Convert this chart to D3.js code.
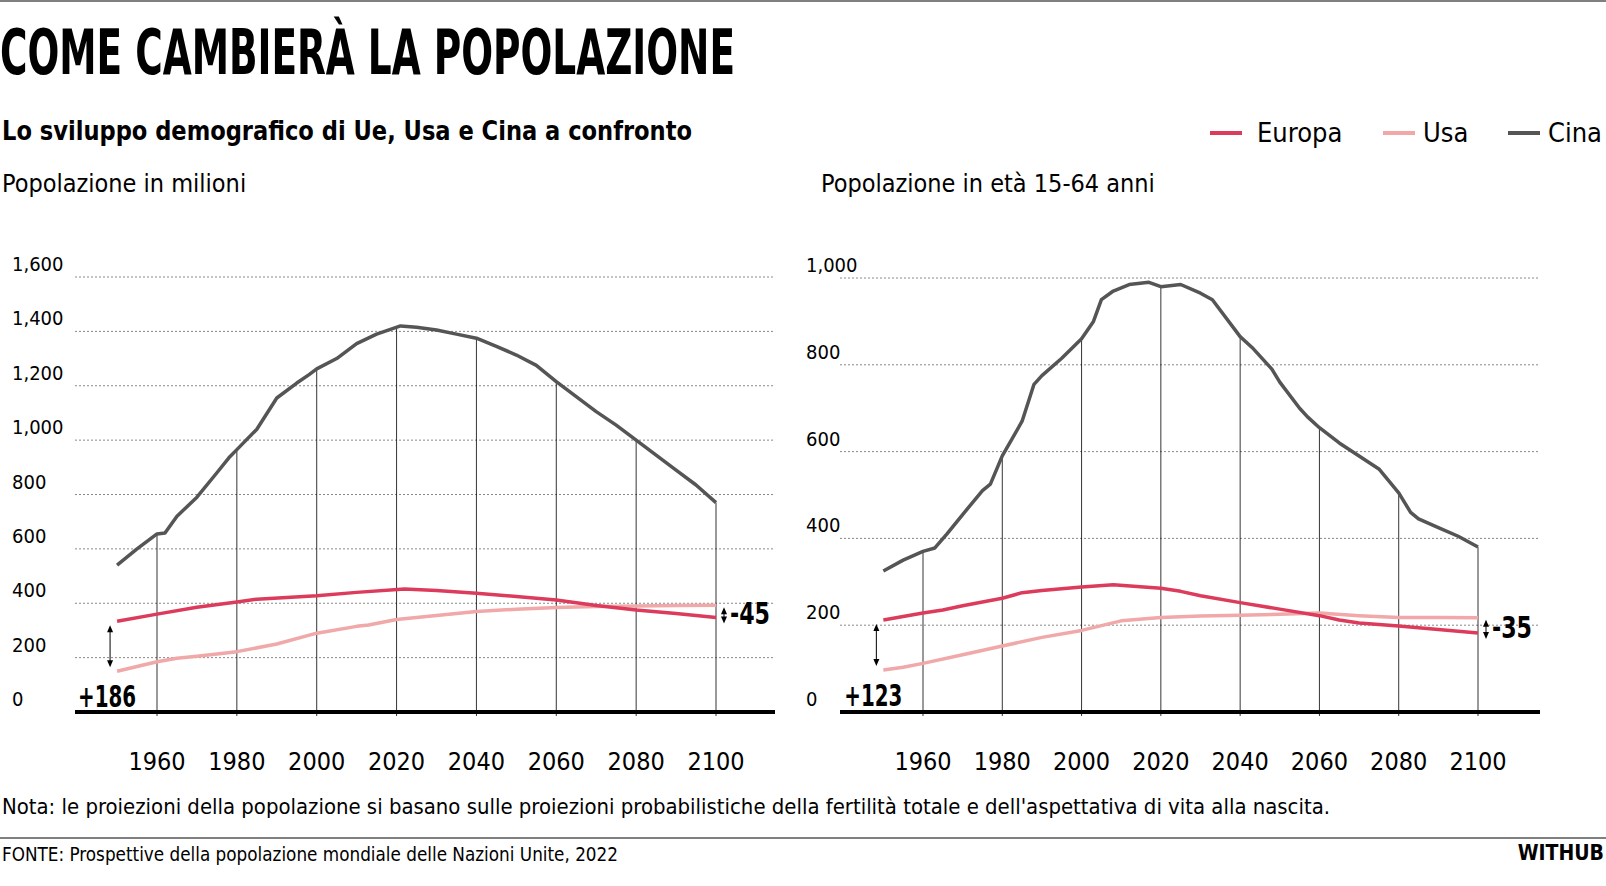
<!DOCTYPE html>
<html><head><meta charset="utf-8">
<script src="https://cdn.jsdelivr.net/npm/d3@7"></script>
<style>
html,body{margin:0;background:#fff;overflow:hidden;}
svg{display:block;}
text{font-family:"DejaVu Sans Condensed","DejaVu Sans",sans-serif;font-stretch:condensed;}
</style></head><body>
<svg id="c" width="1606" height="886"></svg>
<script>
// Data: popolazione totale (milioni)
const totYears = [1950,1955,1960,1962,1965,1970,1975,1978,1980,1985,1990,1995,1998,2000,2005,2010,2015,2021,2025,2030,2035,2040,2045,2050,2055,2060,2065,2070,2075,2080,2085,2090,2095,2100];
const totCina  = [540,600,655,658,720,790,880,935,965,1040,1155,1210,1240,1262,1300,1355,1390,1420,1415,1405,1390,1375,1345,1313,1275,1215,1160,1105,1055,1000,945,890,835,770];
const totEuYears = [1950,1960,1970,1980,1985,2000,2010,2022,2030,2040,2050,2060,2070,2080,2090,2100];
const totEuropa  = [334,360,385,405,415,428,440,452,447,437,425,412,392,375,362,348];
const totUsaYears = [1950,1960,1965,1970,1980,1990,2000,2010,2013,2020,2030,2040,2050,2060,2070,2080,2090,2100];
const totUsa      = [150,185,198,205,222,250,290,315,320,340,355,370,378,384,388,390,392,393];
// Data: popolazione 15-64 anni (milioni)
const wYears = [1950,1955,1960,1963,1966,1970,1975,1977,1980,1985,1988,1990,1995,2000,2003,2005,2008,2012,2017,2020,2025,2030,2033,2040,2043,2048,2050,2055,2057,2060,2065,2070,2075,2080,2083,2085,2090,2095,2100];
const wCina  = [325,350,370,378,410,455,510,525,590,670,755,775,815,860,900,950,970,985,990,980,985,965,950,865,840,790,760,700,680,655,620,590,560,505,460,445,425,405,380];
const wEuYears = [1950,1960,1965,1970,1980,1985,1990,2000,2008,2020,2025,2030,2040,2050,2060,2065,2070,2080,2090,2100];
const wEuropa  = [212,228,235,245,262,275,280,288,293,285,278,268,252,237,222,212,205,198,190,182];
const wUsaYears = [1950,1955,1960,1970,1980,1990,2000,2010,2020,2030,2040,2050,2060,2070,2080,2090,2100];
const wUsa      = [97,103,112,132,152,172,188,210,218,221,223,225,228,222,218,218,217];

const xTicks = [1960,1980,2000,2020,2040,2060,2080,2100];
const legendNames = ["Europa","Usa","Cina"];
const colors = {Europa:"#dc3b5c", Usa:"#f0a8a8", Cina:"#555555"};

const svg = d3.select("#c");

// header
svg.append("line").attr("x1",0).attr("x2",1606).attr("y1",1).attr("y2",1).attr("stroke","#000").attr("stroke-width",1);
svg.append("text").text("COME CAMBIERÀ LA POPOLAZIONE").attr("x",0).attr("y",74)
  .attr("font-size",62).attr("font-weight","bold")
  .attr("textLength",735).attr("lengthAdjust","spacingAndGlyphs");
svg.append("text").text("Lo sviluppo demografico di Ue, Usa e Cina a confronto").attr("x",2).attr("y",140)
  .attr("font-size",27).attr("font-weight","bold")
  .attr("textLength",690).attr("lengthAdjust","spacingAndGlyphs");

// legend
const legX = [1210,1383,1508];
const legTx = [1257,1423,1548];
legendNames.forEach((n,i)=>{
  svg.append("line").attr("x1",legX[i]).attr("x2",legX[i]+32).attr("y1",133).attr("y2",133)
    .attr("stroke",colors[n]).attr("stroke-width",4);
  svg.append("text").text(n).attr("x",legTx[i]).attr("y",142).attr("font-size",27);
});

function panel(cfg){
  const g = svg.append("g");
  const x = d3.scaleLinear().domain([1960,2100]).range(cfg.xr);
  const y = d3.scaleLinear().domain([0,cfg.max]).range([712,cfg.top]);
  g.append("text").text(cfg.title).attr("x",cfg.tx).attr("y",192).attr("font-size",25);
  // horizontal grid
  cfg.yTicks.forEach(t=>{
    if(t>0) g.append("line").attr("x1",cfg.gx[0]).attr("x2",cfg.gx[1]).attr("y1",y(t)).attr("y2",y(t))
      .attr("stroke","#888").attr("stroke-width",1).attr("stroke-dasharray","2,2");
    g.append("text").text(d3.format(",")(t)).attr("x",cfg.lx).attr("y",y(t)-6).attr("font-size",20);
  });
  // vertical lines up to Cina
  const cinaAt = d3.scaleLinear().domain(cfg.cy).range(cfg.cv);
  xTicks.forEach(t=>{
    g.append("line").attr("x1",x(t)).attr("x2",x(t)).attr("y1",716).attr("y2",y(cinaAt(t)))
      .attr("stroke","#000").attr("stroke-width",0.8);
    g.append("text").text(t).attr("x",x(t)).attr("y",770).attr("text-anchor","middle").attr("font-size",25);
  });
  const line = d3.line().x(d=>x(d[0])).y(d=>y(d[1]));
  [["Usa",cfg.uy,cfg.uv],["Europa",cfg.ey,cfg.ev],["Cina",cfg.cy,cfg.cv]].forEach(([n,ys,vs])=>{
    g.append("path").datum(d3.zip(ys,vs)).attr("d",line).attr("fill","none")
      .attr("stroke",colors[n]).attr("stroke-width",3.5).attr("stroke-linejoin","round");
  });
  // baseline
  g.append("line").attr("x1",cfg.gx[0]).attr("x2",cfg.gx[1]).attr("y1",712).attr("y2",712)
    .attr("stroke","#000").attr("stroke-width",4);
  // arrows
  const arrow = (xx,y1,y2)=>{
    g.append("line").attr("x1",xx).attr("x2",xx).attr("y1",y1+6).attr("y2",y2-6).attr("stroke","#000").attr("stroke-width",1);
    g.append("path").attr("d",`M${xx-3},${y1+7}L${xx},${y1}L${xx+3},${y1+7}Z`);
    g.append("path").attr("d",`M${xx-3},${y2-7}L${xx},${y2}L${xx+3},${y2-7}Z`);
  };
  const a0 = x(1950)-7;
  arrow(a0, y(cfg.ev[0])+4, y(cfg.uv[0])-4);
  g.append("text").text(cfg.startLbl).attr("x",a0-32).attr("y",y(cfg.uv[0])+36).attr("font-size",30).attr("font-weight","bold")
    .attr("textLength",58).attr("lengthAdjust","spacingAndGlyphs");
  const a1 = x(2100)+8;
  const eEnd = cfg.ev[cfg.ev.length-1], uEnd = cfg.uv[cfg.uv.length-1];
  arrow(a1, y(uEnd)+2, y(eEnd)+6);
  g.append("text").text(cfg.endLbl).attr("x",a1+6).attr("y",(y(uEnd)+y(eEnd))/2+13).attr("font-size",30).attr("font-weight","bold")
    .attr("textLength",40).attr("lengthAdjust","spacingAndGlyphs");
}

panel({title:"Popolazione in milioni", tx:2, xr:[157,716], top:277, max:1600, yTicks:[0,200,400,600,800,1000,1200,1400,1600],
  gx:[75,775], lx:12, cy:totYears, cv:totCina, ey:totEuYears, ev:totEuropa, uy:totUsaYears, uv:totUsa, startLbl:"+186", endLbl:"-45"});
panel({title:"Popolazione in età 15-64 anni", tx:821, xr:[923,1478], top:278, max:1000, yTicks:[0,200,400,600,800,1000],
  gx:[840,1540], lx:806, cy:wYears, cv:wCina, ey:wEuYears, ev:wEuropa, uy:wUsaYears, uv:wUsa, startLbl:"+123", endLbl:"-35"});

// footer
svg.append("text").text("Nota: le proiezioni della popolazione si basano sulle proiezioni probabilistiche della fertilità totale e dell'aspettativa di vita alla nascita.")
  .attr("x",2).attr("y",814).attr("font-size",21).attr("textLength",1328).attr("lengthAdjust","spacingAndGlyphs");
svg.append("line").attr("x1",0).attr("x2",1606).attr("y1",838).attr("y2",838).attr("stroke","#000").attr("stroke-width",1);
svg.append("text").text("FONTE: Prospettive della popolazione mondiale delle Nazioni Unite, 2022").attr("x",2).attr("y",861).attr("font-size",20)
  .attr("textLength",616).attr("lengthAdjust","spacingAndGlyphs");
svg.append("text").text("WITHUB").attr("x",1604).attr("y",860).attr("text-anchor","end").attr("font-size",21).attr("font-weight","bold");
</script></body></html>
